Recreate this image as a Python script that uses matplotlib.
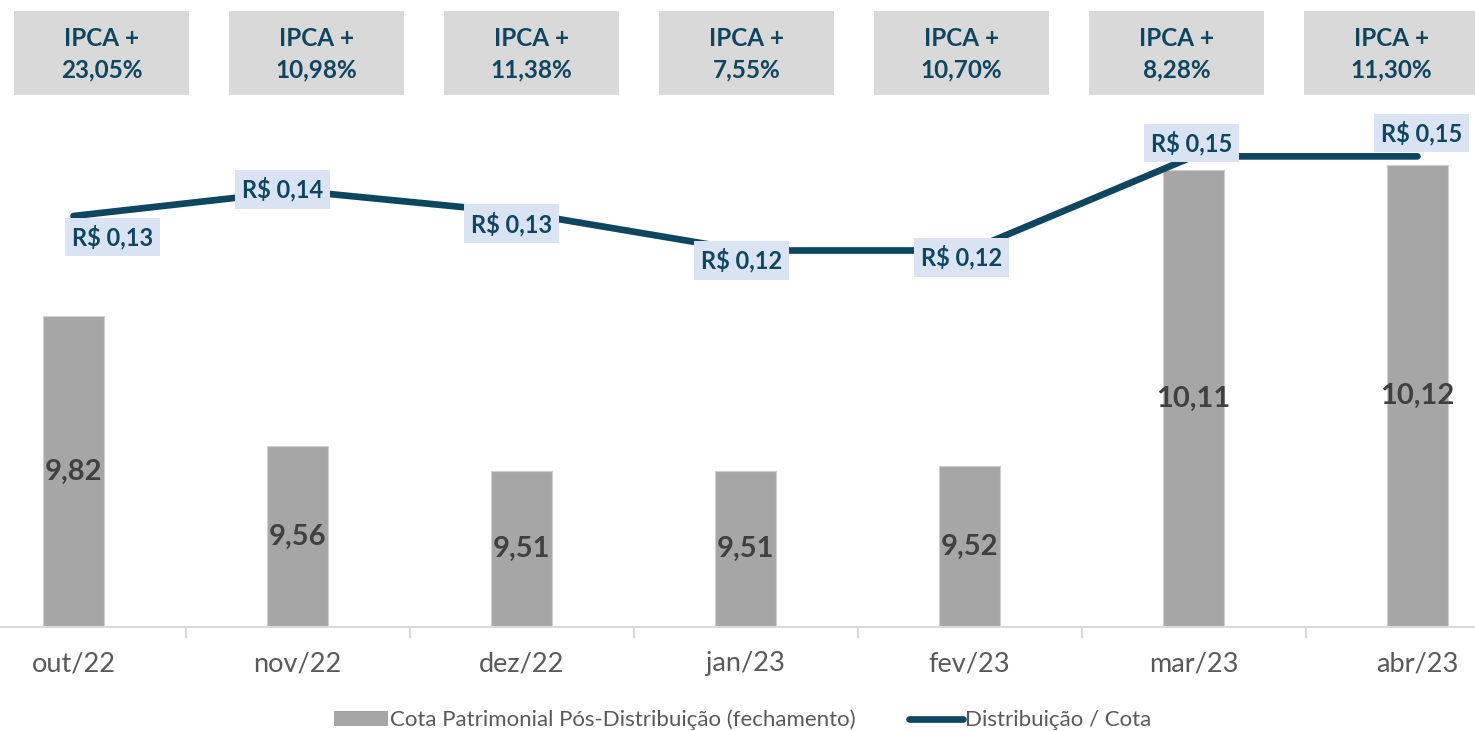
import matplotlib
matplotlib.use("Agg")
import matplotlib.pyplot as plt
from matplotlib.patches import Rectangle, Patch
from matplotlib.lines import Line2D

# ---------------- data ----------------
categories = ["out/22", "nov/22", "dez/22", "jan/23", "fev/23", "mar/23", "abr/23"]
cota = [9.82, 9.56, 9.51, 9.51, 9.52, 10.11, 10.12]
distribuicao = [0.131, 0.139, 0.132, 0.120, 0.120, 0.150, 0.150]
ipca_spread = [23.05, 10.98, 11.38, 7.55, 10.70, 8.28, 11.30]

legend_labels = ["Cota Patrimonial Pós-Distribuição (fechamento)", "Distribuição / Cota"]

# ---------------- style ----------------
TEAL = "#0d4660"
BAR = "#a6a6a6"
GRID = "#d9d9d9"
TXT = "#595959"
LBL_BOX = "#dae3f3"
IPCA_BOX = "#d9d9d9"

plt.rcParams['font.family'] = ['Lato', 'DejaVu Sans']

W, H, DPI = 1475, 731, 100
fig = plt.figure(figsize=(W / DPI, H / DPI), dpi=DPI)


def fx(px):
    return px / W


def fy(py):
    return 1 - py / H


# main axes (extends slightly beyond the figure like the original crop)
ax = fig.add_axes([fx(-38.5), fy(627), 1568 / W, (627 - 125) / H])
x = list(range(len(categories)))
base = 9.2
bars = ax.bar(x, [v - base for v in cota], bottom=base, width=0.27,
              color=BAR, edgecolor="#cfcfcf", linewidth=0.8, zorder=2)
ax.set_ylim(base, 10.2)
ax.set_xlim(-0.5, len(categories) - 0.5)
ax.bar_label(bars, labels=[f"{v:.2f}".replace(".", ",") for v in cota],
             label_type="center", fontsize=21, fontweight="bold", color="#404040")

for s in ["top", "left", "right"]:
    ax.spines[s].set_visible(False)
ax.spines["bottom"].set_color(GRID)
ax.spines["bottom"].set_linewidth(1.5)
ax.set_yticks([])
ax.set_xticks([i + 0.5 for i in x[:-1]])
ax.set_xticklabels([])
ax.tick_params(axis="x", which="major", length=8, width=1.5, color=GRID)
ax.set_xticks(x, categories, minor=True)
ax.tick_params(axis="x", which="minor", length=0, pad=17.5, labelsize=19.5, labelcolor=TXT)

# secondary axis for distribution line
ax2 = ax.twinx()
ax2.set_ylim(0, 0.16)
ax2.axis("off")
ax2.plot(x, distribuicao, color=TEAL, lw=4.8, solid_capstyle="round",
         solid_joinstyle="round", zorder=3)

offsets = [(39, -21), (-15, 1.5), (-10, -11), (-4, -10), (-8, -7), (-2, 13.5), (4, 23.5)]
for i, v in enumerate(distribuicao):
    ax2.annotate(f"R$ {v:.2f}".replace(".", ","), xy=(i, v), xytext=offsets[i],
                 textcoords="offset pixels", ha="center", va="center",
                 fontsize=17, fontweight="bold", color=TEAL, zorder=4,
                 bbox=dict(boxstyle="square,pad=0.3", fc=LBL_BOX, ec="none"))

# IPCA boxes at top
for i, v in enumerate(ipca_spread):
    left = 14 + 215 * i
    fig.add_artist(Rectangle((fx(left), fy(95)), 175 / W, 84 / H,
                             transform=fig.transFigure, fc=IPCA_BOX, ec="none"))
    fig.text(fx(left + 87.5), fy(54), "IPCA +\n" + f"{v:.2f}%".replace(".", ","),
             ha="center", va="center", fontsize=17.5, fontweight="bold",
             color=TEAL, linespacing=1.45)

# legend
handles = [Patch(fc=BAR, ec="none"),
           Line2D([], [], color=TEAL, lw=4.8, solid_capstyle="round")]
fig.legend(handles, legend_labels, loc="center", bbox_to_anchor=(fx(743), fy(720)),
           ncol=2, frameon=False, fontsize=16, handlelength=2.4, handleheight=0.68,
           handletextpad=0.12, columnspacing=2.4, labelcolor=TXT)

fig.savefig("out.png", dpi=DPI)
